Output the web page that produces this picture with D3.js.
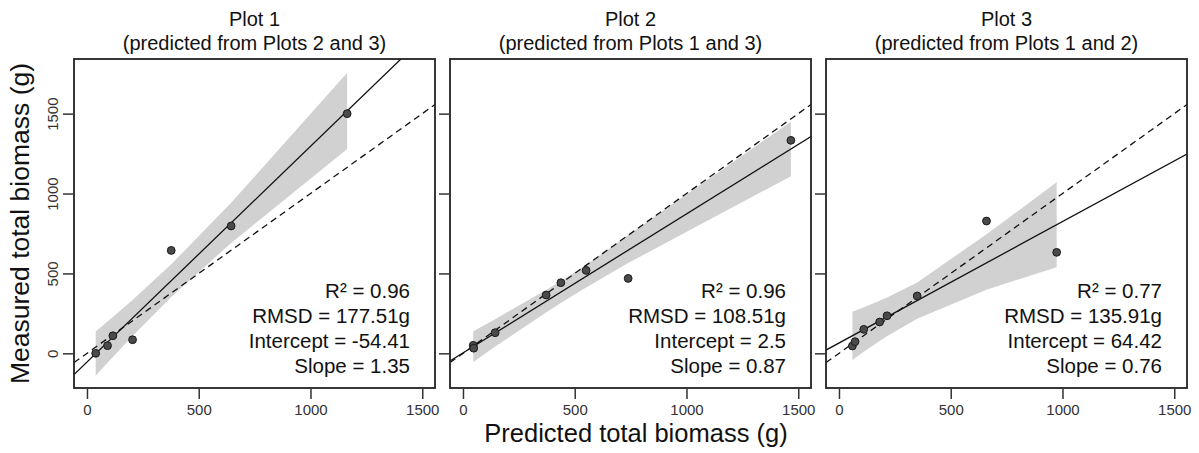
<!DOCTYPE html>
<html>
<head>
<meta charset="utf-8">
<script src="https://cdn.jsdelivr.net/npm/d3@7"></script>
<style>
  body { margin: 0; background: #fff; }
  svg { display: block; font-family: "Liberation Sans", Arial, sans-serif; }
</style>
</head>
<body>
<svg id="chart" width="1199" height="453"></svg>
<script>
// Panel titles
const titles = [
  ["Plot 1", "(predicted from Plots 2 and 3)"],
  ["Plot 2", "(predicted from Plots 1 and 3)"],
  ["Plot 3", "(predicted from Plots 1 and 2)"]
];

// Predicted (x) and measured (y) biomass, g
const predicted1 = [39, 92, 116, 204, 377, 645, 1164];
const measured1  = [0, 48, 110, 85, 644, 797, 1500];
const predicted2 = [46, 48, 144, 372, 438, 551, 739, 1467];
const measured2  = [50, 32, 129, 365, 442, 519, 469, 1333];
const predicted3 = [60, 72, 111, 182, 215, 350, 660, 974];
const measured3  = [46, 73, 150, 196, 235, 359, 828, 632];

// Confidence band of the fitted line, at each predicted value
const bandLow1  = [-140, -59, -23, 108, 353, 690, 1278];
const bandHigh1 = [136, 199, 227, 334, 557, 942, 1756];
const bandLow2  = [-53, -52, 42, 255, 315, 412, 565, 1108];
const bandHigh2 = [138, 140, 214, 397, 453, 552, 740, 1450];
const bandLow3  = [-41, -29, 10, 77, 107, 216, 398, 539];
const bandHigh3 = [261, 267, 288, 329, 349, 444, 745, 1071];

// Fit statistics
const r2        = ["0.96", "0.96", "0.77"];
const rmsd      = ["177.51", "108.51", "135.91"];
const intercept = [-54.41, 2.5, 64.42];
const slope     = [1.35, 0.87, 0.76];

const tickValues = [0, 500, 1000, 1500];

const panels = [
  { x: predicted1, y: measured1, lo: bandLow1, hi: bandHigh1 },
  { x: predicted2, y: measured2, lo: bandLow2, hi: bandHigh2 },
  { x: predicted3, y: measured3, lo: bandLow3, hi: bandHigh3 }
];

const svg = d3.select("#chart");
const panelLefts = [74, 450, 826];
const panelW = 361, plotTop = 59, plotBottom = 388;
const fmt = d3.format("d");

const y = d3.scaleLinear().domain([-217, 1842]).range([plotBottom, plotTop]);

panels.forEach((p, i) => {
  const left = panelLefts[i], right = left + panelW;
  const x = d3.scaleLinear().domain([-58, 1557]).range([left, right]);
  const g = svg.append("g");

  const clipId = "clip" + i;
  svg.append("clipPath").attr("id", clipId)
    .append("rect").attr("x", left).attr("y", plotTop)
    .attr("width", panelW).attr("height", plotBottom - plotTop);

  const plot = g.append("g").attr("clip-path", `url(#${clipId})`);

  // confidence band
  const band = p.x.map((v, k) => ({ x: v, lo: p.lo[k], hi: p.hi[k] }));
  plot.append("path")
    .datum(band)
    .attr("fill", "#d1d1d1")
    .attr("d", d3.area().x(d => x(d.x)).y0(d => y(d.lo)).y1(d => y(d.hi)));

  // 1:1 reference line
  const xd = x.domain();
  plot.append("line")
    .attr("x1", x(xd[0])).attr("y1", y(xd[0]))
    .attr("x2", x(xd[1])).attr("y2", y(xd[1]))
    .attr("stroke", "#111").attr("stroke-width", 1.3)
    .attr("stroke-dasharray", "6.5,4.5");

  // fitted regression line
  plot.append("line")
    .attr("x1", x(xd[0])).attr("y1", y(intercept[i] + slope[i] * xd[0]))
    .attr("x2", x(xd[1])).attr("y2", y(intercept[i] + slope[i] * xd[1]))
    .attr("stroke", "#111").attr("stroke-width", 1.3);

  // observations
  plot.selectAll("circle").data(p.x.map((v, k) => [v, p.y[k]]))
    .join("circle")
    .attr("cx", d => x(d[0])).attr("cy", d => y(d[1]))
    .attr("r", 3.9)
    .attr("fill", "#4a4a4a").attr("stroke", "#1a1a1a").attr("stroke-width", 1);

  // x axis
  const xa = g.append("g").attr("transform", `translate(0,${plotBottom + 1})`)
    .call(d3.axisBottom(x).tickValues(tickValues).tickFormat(fmt).tickSize(10).tickPadding(5));
  xa.select(".domain").remove();
  xa.selectAll("line").attr("stroke", "#333").attr("stroke-width", 1.5);
  xa.selectAll("text").attr("font-size", 15).attr("fill", "#333")
    .attr("font-family", "Liberation Sans, Arial, sans-serif");

  // y axis
  const ya = g.append("g").attr("transform", `translate(${left - 1},0)`)
    .call(d3.axisLeft(y).tickValues(tickValues).tickFormat(fmt).tickSize(10).tickPadding(6));
  ya.select(".domain").remove();
  ya.selectAll("line").attr("stroke", "#333").attr("stroke-width", 1.5);
  if (i === 0) {
    ya.selectAll("text")
      .attr("font-size", 15).attr("fill", "#333")
      .attr("font-family", "Liberation Sans, Arial, sans-serif")
      .attr("text-anchor", "middle")
      .attr("transform", "translate(-20,0) rotate(-90)")
      .attr("x", 0).attr("y", 0).attr("dy", "0.35em");
  } else {
    ya.selectAll("text").remove();
  }

  // frame
  g.append("rect").attr("x", left).attr("y", plotTop)
    .attr("width", panelW).attr("height", plotBottom - plotTop)
    .attr("fill", "none").attr("stroke", "#222").attr("stroke-width", 1.8);

  // titles
  const cx = (left + right) / 2;
  g.append("text").attr("x", cx).attr("y", 26).attr("text-anchor", "middle")
    .attr("font-size", 20).attr("fill", "#111").text(titles[i][0]);
  g.append("text").attr("x", cx).attr("y", 50).attr("text-anchor", "middle")
    .attr("font-size", 20).attr("fill", "#111").text(titles[i][1]);

  // statistics
  const lines = [
    `R\u00B2 = ${r2[i]}`,
    `RMSD = ${rmsd[i]}g`,
    `Intercept = ${intercept[i]}`,
    `Slope = ${slope[i]}`
  ];
  g.selectAll("text.stat").data(lines).join("text")
    .attr("class", "stat")
    .attr("x", right - 25).attr("y", (d, k) => 298 + k * 25)
    .attr("text-anchor", "end").attr("font-size", 20.5).attr("fill", "#111")
    .text(d => d);
});

// axis titles
svg.append("text")
  .attr("transform", `translate(29,${(plotTop + plotBottom) / 2}) rotate(-90)`)
  .attr("text-anchor", "middle").attr("font-size", 26.5).attr("fill", "#111")
  .text("Measured total biomass (g)");
svg.append("text")
  .attr("x", 636).attr("y", 441.5)
  .attr("text-anchor", "middle").attr("font-size", 25.5).attr("fill", "#111")
  .text("Predicted total biomass (g)");
</script>
</body>
</html>
